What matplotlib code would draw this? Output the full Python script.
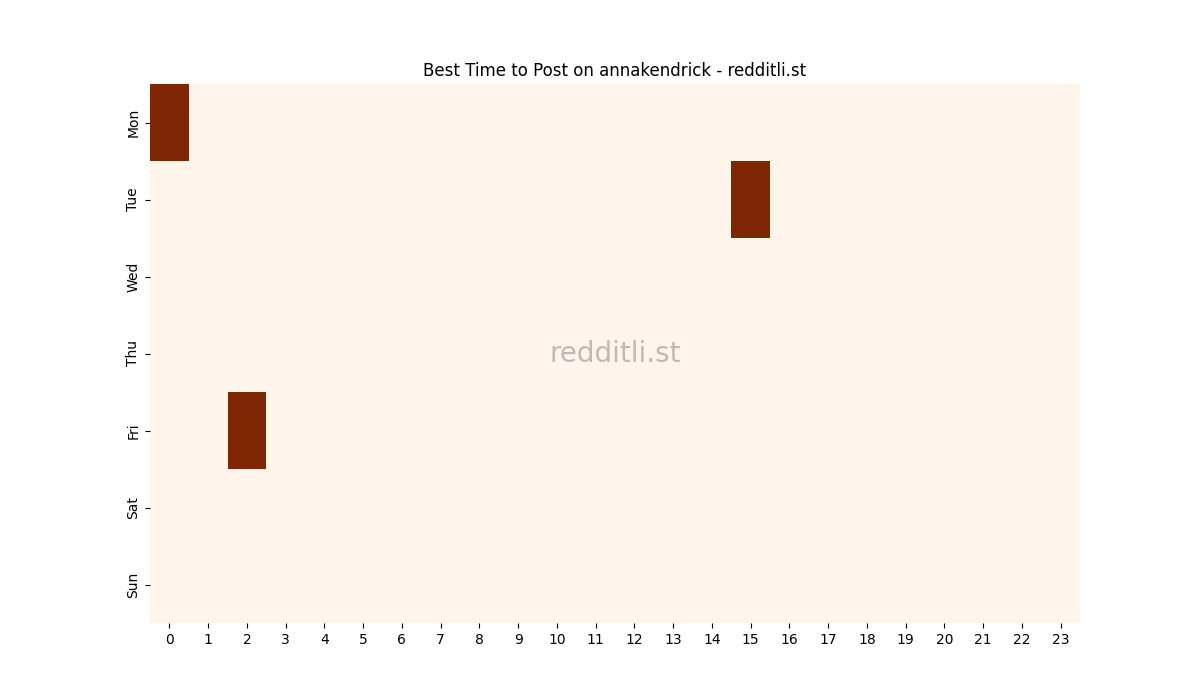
import matplotlib
matplotlib.use("Agg")
import matplotlib.pyplot as plt
import numpy as np

days = ["Mon", "Tue", "Wed", "Thu", "Fri", "Sat", "Sun"]
hours = list(range(24))
# cells marked as best time (day, hour)
best_days = ["Mon", "Tue", "Fri"]
best_hours = [0, 15, 2]

values = np.zeros((len(days), len(hours)))
for d, h in zip(best_days, best_hours):
    values[days.index(d), hours.index(h)] = 1

fig = plt.figure(figsize=(12, 7), dpi=100)
ax = fig.add_subplot(111)
ax.pcolormesh(np.arange(len(hours) + 1), np.arange(len(days) + 1), values,
              cmap="Oranges", vmin=0, vmax=1)
ax.set_xlim(0, len(hours))
ax.set_ylim(len(days), 0)
ax.set_xticks(np.arange(len(hours)) + 0.5)
ax.set_xticklabels([str(h) for h in hours])
ax.set_yticks(np.arange(len(days)) + 0.5)
ax.set_yticklabels(days, rotation=90, va="center")
for s in ax.spines.values():
    s.set_visible(False)
ax.set_title("Best Time to Post on annakendrick - redditli.st")
ax.text(0.5, 0.5, "redditli.st", transform=ax.transAxes, ha="center", va="center",
        fontsize=20, color="gray", alpha=0.5)
fig.savefig("out.png", dpi=100)
